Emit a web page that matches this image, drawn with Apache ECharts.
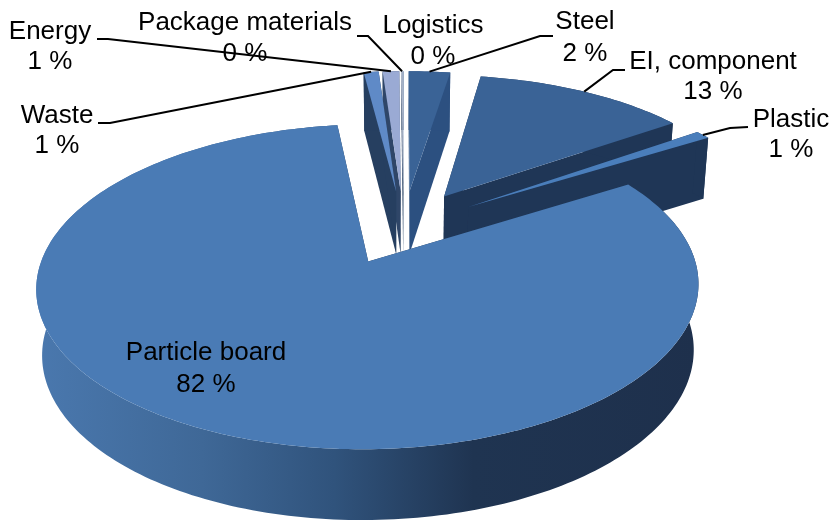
<!DOCTYPE html>
<html><head><meta charset="utf-8">
<style>html,body{margin:0;padding:0;background:#fff}#c{width:832px;height:520px}</style>
<script src="https://cdn.jsdelivr.net/npm/echarts@6/dist/echarts.min.js"></script>
</head><body><div id="c"></div>
<script>
// Data (clockwise from 12 o'clock), percent of total
const categories = ['Steel','EI, component','Plastic','Particle board','Waste','Energy','Package materials','Logistics'];
const values     = [2.49, 12.81, 0.9, 81.8, 0.9, 1.0, 0.06, 0.04];
// Styling and layout
const topColors  = ['#3a6396','#3a6396','#4a7ebb','#4a7bb5','#5f8ac7','#9aaad4','#c8cfe2','#8ea4c8'];
const cutColors  = ['#2c5080','#1f3656','#1f3656','#1f3656','#263f60','#2f4668','#39506f','#39506f'];
const drawOrder  = [7,6,5,4,0,1,2,3];
const labelPos   = [[585,22,32],[713,62,30],[791,120,30],[206,353,32],[57,116,30],[50,32,30],[245,23,31],[433,26,31]];
const leaderPts  = [[[540,36],[553,36]],[[613,70],[625,70]],[[730,128],[748,127]],null,[[110,123],[98,123]],[[108,39],[97,39]],[[368,36],[357,36]],null];
const X0=403.5, Y0=227, R=316, B=148, P=0.15, EXPL=0.25, DEPTH=64, SHRINK=0.984;

const total = values.reduce((a,b)=>a+b,0);
function proj(u,v){const s=1/(1-P*v);return {x:X0+R*u*s,y:Y0+B*v*s,d:DEPTH*Math.sqrt(s)};}
function bounds(i){
  let a=0; for(let k=0;k<i;k++) a+=values[k];
  return [a/total*2*Math.PI,(a+values[i])/total*2*Math.PI];
}
function sliceGeom(i){
  const [a0,a1]=bounds(i), m=(a0+a1)/2;
  const cu=EXPL*Math.sin(m), cv=-EXPL*Math.cos(m);
  const apex=proj(cu,cv), arc=[];
  const n=Math.max(2,Math.ceil((a1-a0)/0.02));
  for(let k=0;k<=n;k++){const t=a0+(a1-a0)*k/n;arc.push(proj(cu+Math.sin(t),cv-Math.cos(t)));}
  return {apex,arc,mid:proj(cu+Math.sin(m),cv-Math.cos(m))};
}
const P2=p=>[p.x,p.y], Dn=p=>[X0+(p.x-X0)*SHRINK,p.y+p.d];
function poly(points,fill){return {type:'polygon',shape:{points},style:{fill,stroke:null}};}
const wallGradient={type:'linear',x:0,y:0,x2:1,y2:0,colorStops:[
  {offset:0,color:'#4a78ae'},{offset:.25,color:'#3f6897'},{offset:.45,color:'#30537c'},
  {offset:.66,color:'#1f3451'},{offset:1,color:'#1e304c'}]};

function renderItem(params){
  const i=drawOrder[params.dataIndex], g=sliceGeom(i), ch=[];
  const first=g.arc[0], last=g.arc[g.arc.length-1];
  ch.push(poly([P2(g.apex),P2(first),Dn(first),Dn(g.apex)],cutColors[i]));
  ch.push(poly([P2(g.apex),P2(last),Dn(last),Dn(g.apex)],cutColors[i]));
  ch.push(poly(g.arc.map(P2).concat(g.arc.slice().reverse().map(Dn)),i===3?wallGradient:cutColors[i]));
  ch.push(poly([P2(g.apex)].concat(g.arc.map(P2)),topColors[i]));
  const L=labelPos[i], pct=Math.round(values[i]/total*100)+' %';
  ch.push({type:'text',style:{x:L[0],y:L[1],text:categories[i],fill:'#000',font:'26px "Liberation Sans"',align:'center',verticalAlign:'middle'}});
  ch.push({type:'text',style:{x:L[0],y:L[1]+L[2],text:pct,fill:'#000',font:'26px "Liberation Sans"',align:'center',verticalAlign:'middle'}});
  if(leaderPts[i]){
    ch.push({type:'polyline',shape:{points:[P2(g.mid)].concat(leaderPts[i])},style:{fill:null,stroke:'#000',lineWidth:2}});
  }
  return {type:'group',children:ch};
}
const chart=echarts.init(document.getElementById('c'),null,{renderer:'canvas'});
chart.setOption({animation:false,backgroundColor:'#fff',
  series:[{type:'custom',coordinateSystem:'none',renderItem,data:drawOrder.map(i=>values[i])}]});
</script></body></html>
